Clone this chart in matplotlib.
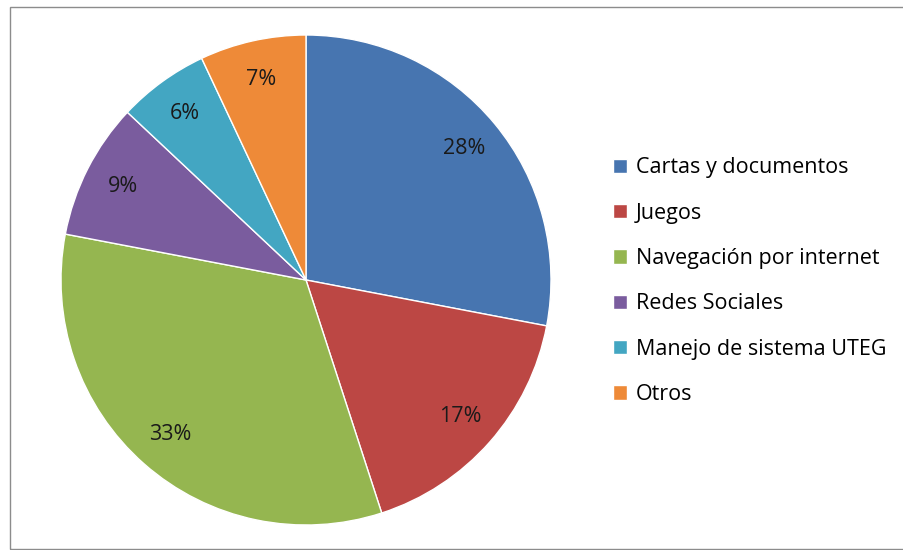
import matplotlib
matplotlib.use("Agg")
import matplotlib.pyplot as plt
from matplotlib.patches import Rectangle

plt.rcParams["font.family"] = ["Open Sans", "DejaVu Sans"]

# datos del gráfico
categorias = ["Cartas y documentos", "Juegos", "Navegación por internet",
              "Redes Sociales", "Manejo de sistema UTEG", "Otros"]
porcentajes = [28, 17, 33, 9, 6, 7]
colores = ["#4775B0", "#BC4744", "#95B650", "#7A5C9E", "#43A6C2", "#EE8A38"]

W, H = 904, 550
fig = plt.figure(figsize=(W / 100, H / 100), dpi=100)

# marco del área del gráfico
fig.patches.append(Rectangle((10 / W, 1.5 / H), 1.2, (H - 8.5) / H,
                             transform=fig.transFigure, fill=False,
                             edgecolor="#8c8c8c", linewidth=1.0))

cx, cy, r = 306, 280, 245
ax = fig.add_axes([(cx - r) / W, (H - cy - r) / H, 2 * r / W, 2 * r / H])
wedges, textos, autotextos = ax.pie(
    porcentajes, colors=colores, startangle=90, counterclock=False,
    autopct="%.0f%%", pctdistance=0.84,
    wedgeprops=dict(edgecolor="white", linewidth=1.0),
    textprops=dict(fontsize=15.5, color="#1a1a1a"))
ax.set_xlim(-1, 1)
ax.set_ylim(-1, 1)

# leyenda a la derecha
fig.legend(wedges, categorias, loc="upper left",
           bbox_to_anchor=(594 / W, 1 - 138 / H),
           frameon=False, fontsize=15.5, handlelength=0.65, handleheight=0.65,
           handletextpad=0.4, labelspacing=1.13)

fig.savefig("out.png", dpi=100)
